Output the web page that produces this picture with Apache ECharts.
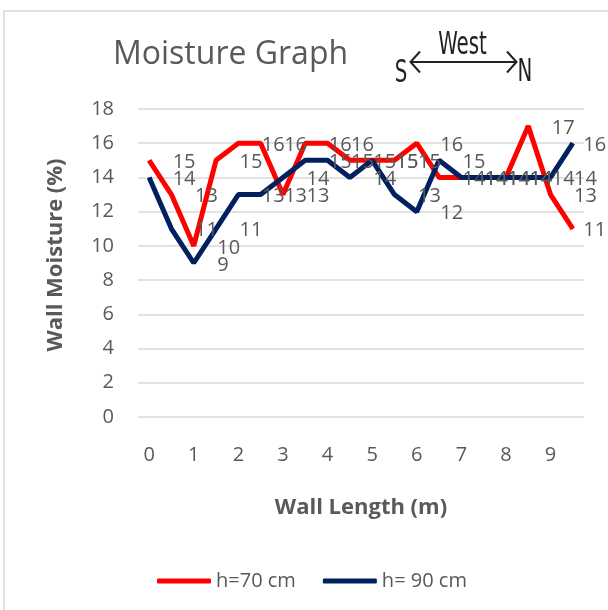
<!DOCTYPE html>
<html>
<head>
<meta charset="utf-8">
<script src="https://cdn.jsdelivr.net/npm/echarts@6/dist/echarts.min.js"></script>
<style>
html,body{margin:0;padding:0;background:#fff;}
#chart{width:608px;height:610px;}
</style>
</head>
<body>
<div id="chart"></div>
<script>
// ---- data ----
const categories = ['0','0.5','1','1.5','2','2.5','3','3.5','4','4.5','5','5.5','6','6.5','7','7.5','8','8.5','9','9.5'];
const h70 = [15,13,10,15,16,16,13,16,16,15,15,15,16,14,14,14,14,17,13,11];
const h90 = [14,11,9,11,13,13,14,15,15,14,15,13,12,15,14,14,14,14,14,16];
const seriesNames = ['h=70 cm', 'h= 90 cm'];
const yTicks = {min: 0, max: 18, interval: 2};

const FONT = '"Open Sans", "Noto Sans", sans-serif';
const GRAY = '#595959';
const NARROW = '"Liberation Sans Narrow", "DejaVu Sans Condensed", sans-serif';

function buildData(values) {
  return values.map((v, i) => {
    if (i === values.length - 1) {
      return {value: v, label: {distance: 10}};
    }
    return v;
  });
}

function lineSeries(name, values, color) {
  return {
    name: name,
    type: 'line',
    data: buildData(values),
    symbol: 'circle',
    symbolSize: 1,
    showSymbol: true,
    lineStyle: {color: color, width: 5},
    itemStyle: {color: color},
    label: {
      show: true,
      position: 'right',
      distance: 23,
      offset: [0, 2],
      color: GRAY,
      fontFamily: FONT,
      fontSize: 20
    },
    emphasis: {disabled: true},
    animation: false
  };
}

const chart = echarts.init(document.getElementById('chart'), null, {renderer: 'canvas'});
chart.setOption({
  backgroundColor: '#fff',
  animation: false,
  title: {
    text: 'Moisture Graph',
    left: 108,
    top: 34,
    textStyle: {fontFamily: FONT, fontSize: 32, fontWeight: 'normal', color: GRAY}
  },
  legend: {
    data: seriesNames,
    left: 152,
    top: 566,
    icon: 'roundRect',
    itemWidth: 54,
    itemHeight: 5,
    itemGap: 27,
    textStyle: {fontFamily: FONT, fontSize: 20, color: GRAY}
  },
  grid: {left: 138, right: 24, top: 109, bottom: 193, containLabel: false},
  xAxis: {
    type: 'category',
    data: categories,
    boundaryGap: true,
    name: 'Wall Length (m)',
    nameLocation: 'middle',
    nameGap: 80,
    nameTextStyle: {fontFamily: FONT, fontSize: 22, fontWeight: 'bold', color: GRAY},
    axisLine: {show: false},
    axisTick: {show: false},
    axisLabel: {interval: 1, margin: 28, fontFamily: FONT, fontSize: 20, color: GRAY}
  },
  yAxis: {
    type: 'value',
    min: yTicks.min,
    max: yTicks.max,
    interval: yTicks.interval,
    name: 'Wall Moisture (%)',
    nameLocation: 'middle',
    nameGap: 71,
    nameTextStyle: {fontFamily: FONT, fontSize: 22, fontWeight: 'bold', color: GRAY, padding: [0, 0, 0, 16]},
    axisLine: {show: false},
    axisTick: {show: false},
    splitLine: {lineStyle: {color: '#d9d9d9', width: 1.5}},
    axisLabel: {margin: 24, fontFamily: FONT, fontSize: 20, color: GRAY}
  },
  graphic: [
    {type: 'rect', shape: {x: 4, y: 11, width: 700, height: 700}, style: {fill: 'none', stroke: '#d9d9d9', lineWidth: 1.5}, silent: true, z: -1},
    {type: 'line', shape: {x1: 410, y1: 62, x2: 517, y2: 62}, style: {stroke: '#222', lineWidth: 2}},
    {type: 'polyline', shape: {points: [[420, 51.5], [410.5, 62], [420, 72.5]]}, style: {stroke: '#222', lineWidth: 2, fill: 'none'}},
    {type: 'polyline', shape: {points: [[507, 51.5], [516.5, 62], [507, 72.5]]}, style: {stroke: '#222', lineWidth: 2, fill: 'none'}},
    {type: 'text', x: 401, y: 73.5, scaleY: 1.42, style: {text: 'S', fontFamily: NARROW, fontSize: 22, fill: '#222', align: 'center', verticalAlign: 'middle'}},
    {type: 'text', x: 525, y: 72.5, scaleY: 1.42, style: {text: 'N', fontFamily: NARROW, fontSize: 22, fill: '#222', align: 'center', verticalAlign: 'middle'}},
    {type: 'text', x: 462.5, y: 46, scaleY: 1.42, style: {text: 'West', fontFamily: NARROW, fontSize: 22, fill: '#222', align: 'center', verticalAlign: 'middle'}}
  ],
  series: [
    lineSeries(seriesNames[0], h70, '#ff0000'),
    lineSeries(seriesNames[1], h90, '#002060')
  ]
});
</script>
</body>
</html>
